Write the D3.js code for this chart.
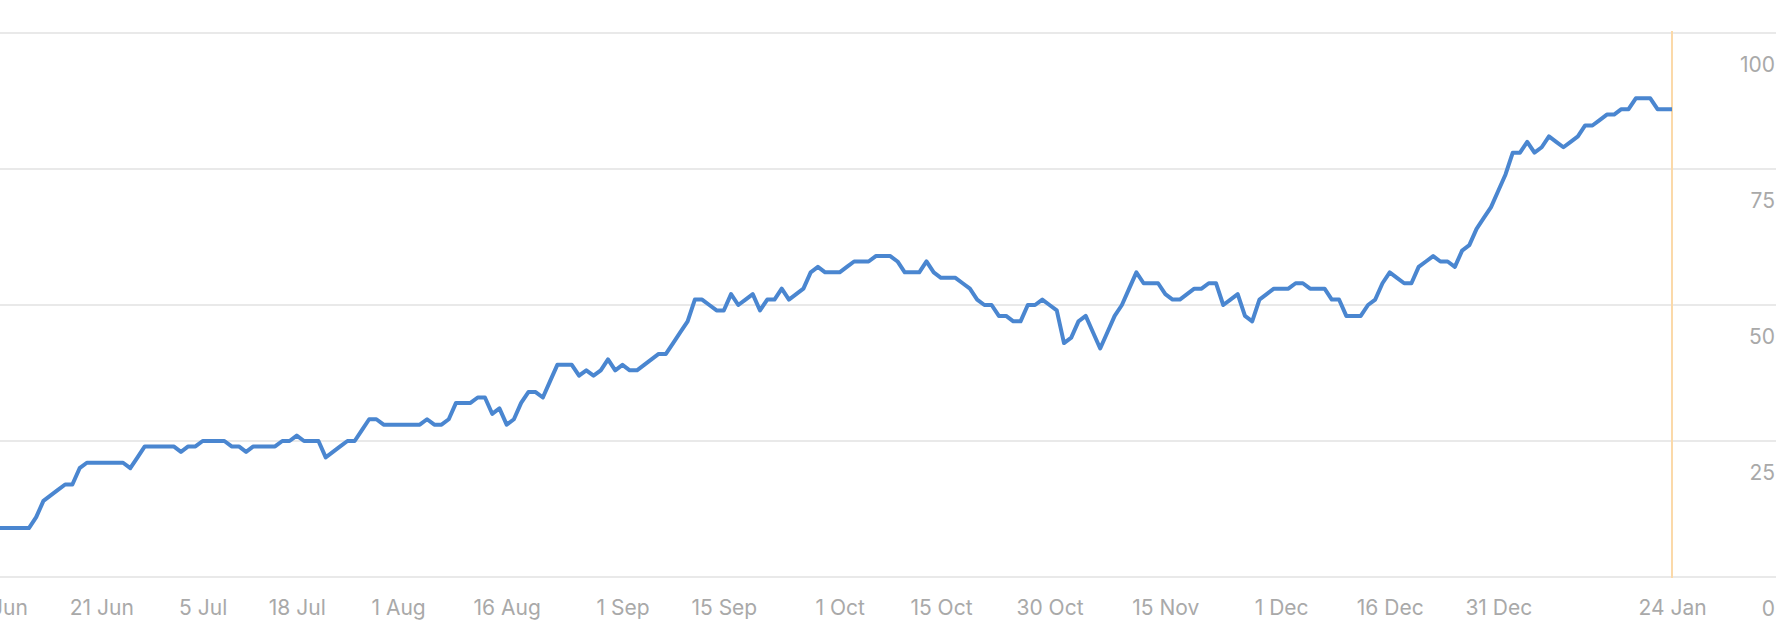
<!DOCTYPE html>
<html>
<head>
<meta charset="utf-8">
<script src="https://cdn.jsdelivr.net/npm/d3@7"></script>
<style>
  html, body { margin: 0; padding: 0; background: #fff; overflow: hidden; }
  text { font-family: Inter, "Noto Sans", sans-serif; }
</style>
</head>
<body>
<script>
// one value per day, starting 7 Jun
var startDay = "2023-06-07";
var dailyValues = [
  9, 9, 9, 9, 9, 11, 14, 15, 16, 17, 17, 20, 21, 21, 21, 21, 21, 21, 20, 22,
  24, 24, 24, 24, 24, 23, 24, 24, 25, 25, 25, 25, 24, 24, 23, 24, 24, 24, 24, 25,
  25, 26, 25, 25, 25, 22, 23, 24, 25, 25, 27, 29, 29, 28, 28, 28, 28, 28, 28, 29,
  28, 28, 29, 32, 32, 32, 33, 33, 30, 31, 28, 29, 32, 34, 34, 33, 36, 39, 39, 39,
  37, 38, 37, 38, 40, 38, 39, 38, 38, 39, 40, 41, 41, 43, 45, 47, 51, 51, 50, 49,
  49, 52, 50, 51, 52, 49, 51, 51, 53, 51, 52, 53, 56, 57, 56, 56, 56, 57, 58, 58,
  58, 59, 59, 59, 58, 56, 56, 56, 58, 56, 55, 55, 55, 54, 53, 51, 50, 50, 48, 48,
  47, 47, 50, 50, 51, 50, 49, 43, 44, 47, 48, 45, 42, 45, 48, 50, 53, 56, 54, 54,
  54, 52, 51, 51, 52, 53, 53, 54, 54, 50, 51, 52, 48, 47, 51, 52, 53, 53, 53, 54,
  54, 53, 53, 53, 51, 51, 48, 48, 48, 50, 51, 54, 56, 55, 54, 54, 57, 58, 59, 58,
  58, 57, 60, 61, 64, 66, 68, 71, 74, 78, 78, 80, 78, 79, 81, 80, 79, 80, 81, 83,
  83, 84, 85, 85, 86, 86, 88, 88, 88, 86, 86, 86
];

var tickDates = ["2023-06-07", "2023-06-21", "2023-07-05", "2023-07-18", "2023-08-01",
  "2023-08-16", "2023-09-01", "2023-09-15", "2023-10-01", "2023-10-15", "2023-10-30",
  "2023-11-15", "2023-12-01", "2023-12-16", "2023-12-31", "2024-01-24"];
var tickLabels = ["7 Jun", "21 Jun", "5 Jul", "18 Jul", "1 Aug", "16 Aug", "1 Sep",
  "15 Sep", "1 Oct", "15 Oct", "30 Oct", "15 Nov", "1 Dec", "16 Dec", "31 Dec", "24 Jan"];
var yTicks = [0, 25, 50, 75, 100];
var markerDay = "2024-01-24";

var width = 1784, height = 644;
var gridRight = 1776;

var parseDate = d3.timeParse("%Y-%m-%d");
var day0 = parseDate(startDay);
var points = dailyValues.map(function(v, i) {
  return { date: d3.timeDay.offset(day0, i), value: v };
});

var x = d3.scaleTime()
  .domain([day0, parseDate(markerDay)])
  .range([0, 1672]);

var y = d3.scaleLinear()
  .domain([0, 100])
  .range([577, 33]);

var svg = d3.select("body").append("svg")
  .attr("width", width)
  .attr("height", height);

// horizontal grid
svg.append("g")
  .selectAll("line")
  .data(yTicks)
  .enter().append("line")
  .attr("x1", 0)
  .attr("x2", gridRight)
  .attr("y1", function(d) { return y(d); })
  .attr("y2", function(d) { return y(d); })
  .attr("stroke", "#e9e9e9")
  .attr("stroke-width", 2);

// y labels sit under their grid line, right aligned
var yAxis = d3.axisRight(y).tickValues(yTicks).tickSize(0).tickPadding(0);
var yG = svg.append("g")
  .attr("transform", "translate(" + gridRight + ",0)")
  .call(yAxis);
yG.select(".domain").remove();
yG.selectAll("text")
  .attr("text-anchor", "end")
  .attr("x", -1)
  .attr("dy", "38px")
  .attr("fill", "#a9a9a9")
  .style("font-size", "21px");

// x axis labels
var tickMap = tickDates.map(parseDate);
var xAxis = d3.axisBottom(x)
  .tickValues(tickMap)
  .tickSize(0)
  .tickPadding(0)
  .tickFormat(function(d, i) { return tickLabels[i]; });
var xG = svg.append("g")
  .attr("transform", "translate(0,577)")
  .call(xAxis);
xG.select(".domain").remove();
xG.selectAll("text")
  .attr("y", 0)
  .attr("dy", "38px")
  .attr("fill", "#a9a9a9")
  .style("font-size", "21px");

// today marker
svg.append("line")
  .attr("x1", x(parseDate(markerDay)))
  .attr("x2", x(parseDate(markerDay)))
  .attr("y1", 31)
  .attr("y2", 578)
  .attr("stroke", "#fbd9a9")
  .attr("stroke-width", 2);

var line = d3.line()
  .x(function(d) { return x(d.date); })
  .y(function(d) { return y(d.value); });

svg.append("path")
  .datum(points)
  .attr("d", line)
  .attr("fill", "none")
  .attr("stroke", "#4a86d0")
  .attr("stroke-width", 4)
  .attr("stroke-linejoin", "round");
</script>
</body>
</html>
